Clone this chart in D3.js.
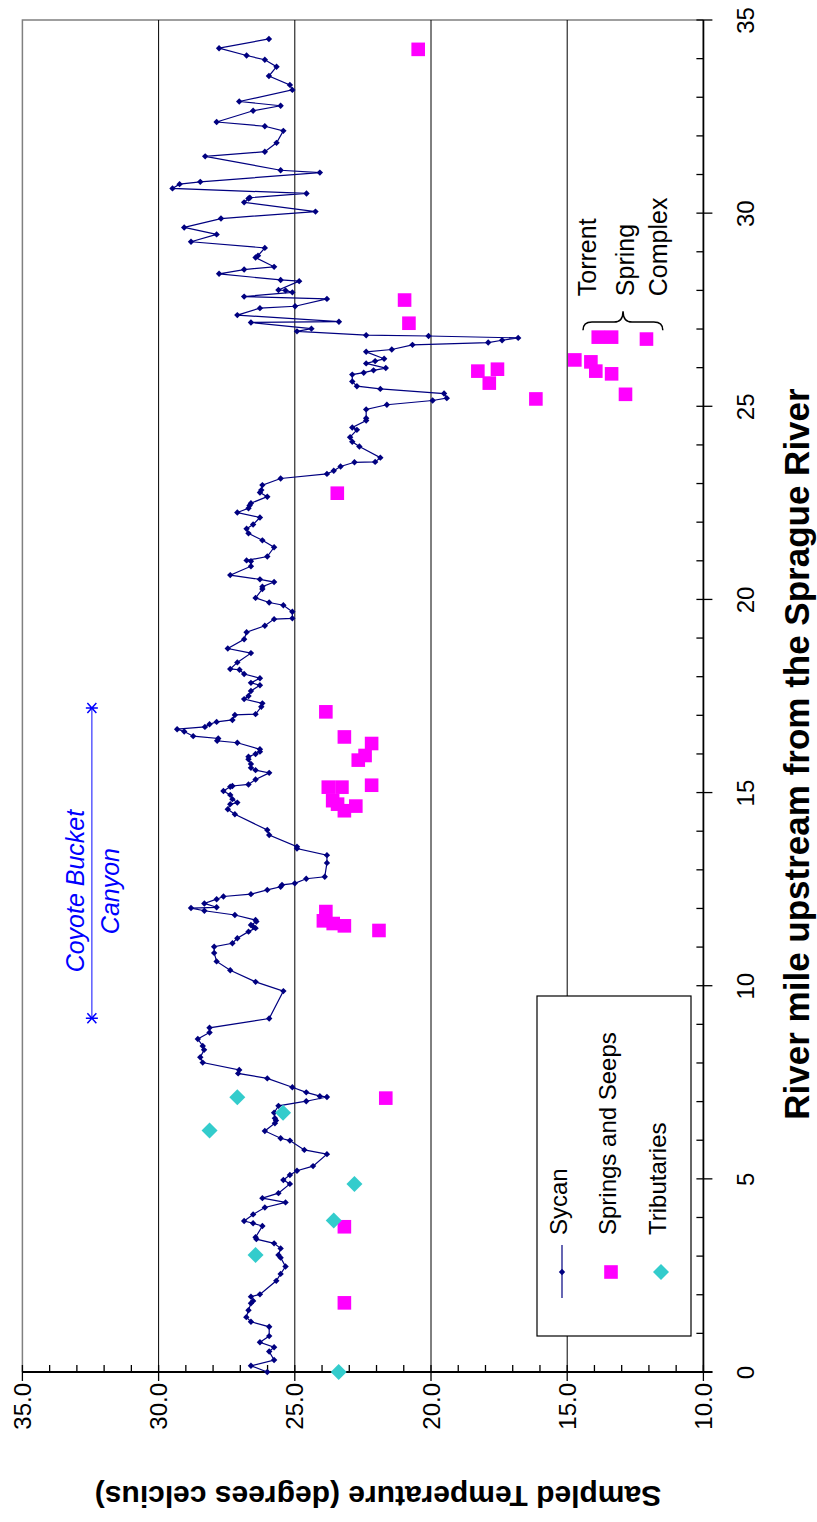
<!DOCTYPE html>
<html><head><meta charset="utf-8">
<script src="https://cdn.jsdelivr.net/npm/d3@7"></script>
<style>
body{margin:0;background:#fff}
svg{display:block}
text{font-family:"Liberation Sans",Arial,sans-serif}
</style>
</head><body>
<svg id="c" width="817" height="1522"></svg>
<script>
// ---------- data ----------
const sycanMile=[34.51,34.27,34.08,33.97,33.79,33.55,33.32,33.19,32.89,32.78,32.65,32.36,32.25,32.13,31.82,31.59,31.47,31.11,31.05,30.81,30.75,30.64,30.51,30.40,30.38,30.28,30.04,29.86,29.63,29.45,29.26,29.10,
28.90,28.85,28.61,28.54,28.43,28.27,28.24,28.01,28.00,27.95,27.84,27.78,27.59,27.54,27.36,27.19,27.17,27.01,26.94,26.84,26.82,26.77,26.71,26.65,26.59,26.47,26.41,26.23,26.17,26.11,25.99,25.93,25.87,25.82,25.64,25.52,25.45,25.33,25.21,25.15,25.04,24.92,24.69,24.63,24.45,24.39,24.20,24.08,23.96,23.67,23.56,23.55,23.44,23.33,
23.25,23.13,22.96,22.83,22.77,22.66,22.49,22.43,22.36,22.25,22.12,21.94,21.83,21.71,21.53,21.35,21.11,21.01,20.99,20.86,20.63,20.52,20.45,20.33,20.27,20.04,19.92,19.85,19.68,19.51,19.49,19.32,19.15,18.97,18.73,18.61,18.37,18.20,18.18,18.07,17.96,17.84,17.78,17.63,
17.50,17.42,17.31,17.22,17.03,17.01,16.88,16.83,16.77,16.70,16.64,16.58,16.46,16.40,16.34,16.29,16.12,16.06,16.00,15.93,15.86,15.74,15.64,15.58,15.51,15.34,15.21,15.17,15.15,15.04,14.94,14.83,14.74,14.70,14.57,14.44,14.03,13.90,13.60,13.55,13.38,13.18,12.82,12.77,12.65,12.61,12.56,12.48,12.37,12.31,12.24,
12.13,12.03,12.01,11.94,11.83,11.70,11.66,11.57,11.53,11.49,11.40,11.23,11.10,11.01,10.85,10.63,10.40,10.10,9.86,9.15,8.91,8.79,8.62,8.44,8.34,8.15,8.01,7.82,7.73,7.60,7.37,7.24,7.14,7.12,7.01,6.89,6.71,6.57,6.51,6.44,
6.24,6.05,5.99,5.75,5.64,5.33,5.21,5.10,4.97,4.87,4.63,4.50,4.39,4.26,4.08,3.91,3.85,3.78,3.49,3.44,3.33,3.20,3.03,2.96,2.73,2.54,2.36,2.01,1.95,1.84,1.78,1.60,1.42,1.30,1.17,0.93,0.77,0.64,0.53,0.31,0.16,0.00];
const sycanTemp=[25.95,27.78,26.77,26.10,25.67,25.95,25.18,25.09,27.04,25.52,26.53,27.87,26.10,25.42,25.67,26.10,28.29,25.52,24.08,28.47,29.23,29.49,24.57,26.65,26.70,26.86,24.24,27.71,29.06,27.87,28.81,26.10,
26.35,26.44,25.76,26.86,27.78,25.52,24.84,25.60,25.34,25.09,26.86,23.82,24.99,26.28,27.11,23.38,26.61,24.39,24.92,22.38,20.09,16.80,17.39,17.90,20.68,21.44,22.38,21.72,22.05,22.38,21.66,22.11,22.47,22.89,22.89,22.72,21.86,19.52,19.42,19.94,21.62,22.38,22.38,22.38,22.89,22.72,22.97,22.89,22.63,21.86,22.05,22.81,23.32,23.57,
23.82,25.52,26.19,26.23,26.28,26.01,26.61,26.66,26.70,27.11,26.28,26.53,26.77,26.70,26.19,25.76,26.01,26.77,26.61,26.61,27.37,26.28,25.76,26.19,26.19,26.44,25.94,25.42,25.09,25.09,25.76,26.10,26.77,26.86,27.46,26.61,27.11,27.37,27.03,26.86,26.28,26.61,26.28,26.61,
26.70,26.86,26.19,26.23,26.44,27.20,27.29,27.87,28.13,28.30,29.32,29.06,28.73,27.81,27.85,27.11,26.28,26.28,26.44,26.70,26.70,26.61,26.61,26.44,25.94,26.44,26.70,27.29,27.37,27.62,27.37,27.29,27.11,27.37,27.46,27.20,26.01,25.94,24.92,24.92,23.82,23.82,23.90,24.58,25.00,25.47,25.52,26.01,26.61,27.62,27.87,
28.32,27.87,28.81,28.32,27.20,26.44,26.41,26.61,26.53,26.44,26.70,27.11,27.29,27.96,27.96,27.87,27.37,26.44,25.42,25.94,28.13,28.13,28.56,28.38,28.33,28.47,28.38,27.04,27.08,26.01,25.09,24.58,24.08,23.82,24.58,25.60,25.76,25.73,25.69,25.73,
26.10,25.52,25.18,24.65,23.82,24.33,24.92,25.18,25.42,25.18,25.60,26.19,25.34,26.10,26.53,26.86,26.53,26.19,26.44,26.41,25.76,25.52,25.60,25.52,25.34,25.52,25.68,26.28,26.61,26.53,26.61,26.70,26.78,26.61,25.94,25.94,26.28,25.76,25.94,25.76,26.61,26.01];

const springMile=[34.24,27.75,27.15,26.79,26.79,26.74,26.20,26.15,25.91,25.84,25.31,25.91,25.96,25.60,25.19,22.75,17.09,16.44,16.27,15.96,15.84,15.19,15.14,15.14,14.79,14.70,14.65,14.53,11.92,11.68,11.61,11.55,11.43,7.09,3.76,1.79];
const springTemp=[20.47,20.97,20.81,13.86,13.37,12.09,14.72,14.13,13.95,13.37,12.86,18.28,17.56,17.86,16.15,23.44,23.86,23.18,22.18,22.42,22.67,22.18,23.77,23.27,23.61,23.43,22.76,23.18,23.86,23.95,23.59,23.18,21.91,21.66,23.18,23.18];

const tribMile=[7.11,6.71,6.25,4.87,3.92,3.03,0.00];
const tribTemp=[27.11,25.43,28.13,22.81,23.57,26.44,23.39];

const tempTicks=[10,15,20,25,30,35];
const mileTicks=[0,5,10,15,20,25,30,35];
const seriesNames=["Sycan","Springs and Seeps","Tributaries"];
const xTitle="River mile upstream from the Sprague River";
const yTitle="Sampled Temperature (degrees celcius)";
const canyonLabel=["Coyote Bucket","Canyon"];
const canyonMiles=[9.16,17.19];
const torrentLabel=["Torrent","Spring","Complex"];

// ---------- scales (chart is rotated: temperature horizontal, river mile vertical) ----------
const svg=d3.select("#c");
const x=d3.scaleLinear().domain([10,35]).range([703.4,22.4]);
const y=d3.scaleLinear().domain([0,35]).range([1372,20]);

// plot border (top/left gray)
svg.append("path").attr("d",`M${x(10)},${y(35)}L${x(35)},${y(35)}L${x(35)},${y(0)}`)
  .attr("fill","none").attr("stroke","#808080").attr("stroke-width",1.5);

// gridlines
svg.append("g").selectAll("line").data([15,20,25,30]).join("line")
  .attr("x1",d=>x(d)).attr("x2",d=>x(d)).attr("y1",y(0)).attr("y2",y(35))
  .attr("stroke","#000").attr("stroke-width",1);

// temperature axis (bottom)
const gx=svg.append("g").attr("transform",`translate(0,${y(0)})`)
  .call(d3.axisBottom(x).tickValues(tempTicks).tickSize(0).tickFormat(d3.format(".1f")));
gx.select(".domain").remove();
gx.selectAll("text").attr("transform","rotate(-90)").attr("text-anchor","end")
  .attr("x",-11).attr("y",8).attr("dy",0).attr("font-size",24).attr("fill","#000");
svg.append("line").attr("x1",x(35)).attr("x2",x(10)+9).attr("y1",y(0)).attr("y2",y(0))
  .attr("stroke","#000").attr("stroke-width",1.8);
svg.append("g").selectAll("line").data(d3.range(10,36)).join("line")
  .attr("x1",d=>x(d)).attr("x2",d=>x(d))
  .attr("y1",d=>y(0)-7).attr("y2",d=>d%5===0?y(0)+9:y(0))
  .attr("stroke","#000").attr("stroke-width",1.3);

// river mile axis (right)
const gy=svg.append("g").attr("transform",`translate(${x(10)},0)`)
  .call(d3.axisRight(y).tickValues(mileTicks).tickSize(0));
gy.select(".domain").remove();
gy.selectAll("text").attr("transform","rotate(-90)").attr("text-anchor","middle")
  .attr("x",0).attr("y",51).attr("dy",0).attr("font-size",24).attr("fill","#000");
svg.append("line").attr("x1",x(10)).attr("x2",x(10)).attr("y1",y(35)).attr("y2",y(0))
  .attr("stroke","#000").attr("stroke-width",1.8);
svg.append("g").selectAll("line").data(d3.range(0,36)).join("line")
  .attr("y1",d=>y(d)).attr("y2",d=>y(d))
  .attr("x1",d=>x(10)-7).attr("x2",d=>d%5===0?x(10)+9:x(10))
  .attr("stroke","#000").attr("stroke-width",1.3);

// axis titles
svg.append("text").attr("transform","translate(378,1486) rotate(180)")
  .attr("text-anchor","middle").attr("font-weight","bold").attr("font-size",30).text(yTitle);
svg.append("text").attr("transform","translate(809,754) rotate(-90)")
  .attr("text-anchor","middle").attr("font-weight","bold").attr("font-size",35).text(xTitle);

// Sycan line
const sycan=sycanMile.map((m,i)=>({m,t:sycanTemp[i]}));
svg.append("path").datum(sycan)
  .attr("d",d3.line().x(d=>x(d.t)).y(d=>y(d.m)))
  .attr("fill","none").attr("stroke","#000080").attr("stroke-width",1.2);
svg.append("g").selectAll("path").data(sycan).join("path")
  .attr("transform",d=>`translate(${x(d.t)},${y(d.m)})`)
  .attr("d","M0,-3.2L3.2,0L0,3.2L-3.2,0Z").attr("fill","#000080");

// springs
const springs=springMile.map((m,i)=>({m,t:springTemp[i]}));
svg.append("g").selectAll("rect").data(springs).join("rect")
  .attr("x",d=>x(d.t)-6.8).attr("y",d=>y(d.m)-6.8).attr("width",13.6).attr("height",13.6)
  .attr("fill","#ff00ff");

// tributaries
const tribs=tribMile.map((m,i)=>({m,t:tribTemp[i]}));
svg.append("g").selectAll("path").data(tribs).join("path")
  .attr("transform",d=>`translate(${x(d.t)},${y(d.m)})`)
  .attr("d","M0,-8L8,0L0,8L-8,0Z").attr("fill","#33cccc");

// Coyote Bucket Canyon annotation
const cx=x(32.45);
svg.append("line").attr("x1",cx).attr("x2",cx).attr("y1",y(canyonMiles[0])).attr("y2",y(canyonMiles[1]))
  .attr("stroke","#3333ff").attr("stroke-width",1.2);
canyonMiles.forEach(m=>{
  const g=svg.append("g").attr("transform",`translate(${cx},${y(m)})`);
  g.append("path").attr("d","M-6,0L6,0M-4.5,-5L4.5,5M-4.5,5L4.5,-5")
    .attr("stroke","#0000ff").attr("stroke-width",1.5);
});
svg.append("text").attr("transform",`translate(${x(32.74)},${y(12.45)}) rotate(-90)`)
  .attr("text-anchor","middle").attr("font-size",25).attr("font-style","italic").attr("fill","#0000ff").text(canyonLabel[0]);
svg.append("text").attr("transform",`translate(${x(31.45)},${y(12.45)}) rotate(-90)`)
  .attr("text-anchor","middle").attr("font-size",25).attr("font-style","italic").attr("fill","#0000ff").text(canyonLabel[1]);

// Torrent Spring Complex annotation
[[13.94,torrentLabel[0]],[12.55,torrentLabel[1]],[11.34,torrentLabel[2]]].forEach(([t,s])=>{
  svg.append("text").attr("transform",`translate(${x(t)},${y(27.85)}) rotate(-90)`)
    .attr("text-anchor","start").attr("font-size",25).attr("fill","#000").text(s);
});
{
  const xl=x(14.42), xr=x(11.49), xt=x(12.95), ys=y(27.18), yt=y(27.46), ye=y(26.97);
  const p=d3.path();
  p.moveTo(xl,ye); p.quadraticCurveTo(xl,ys,xl+9,ys); p.lineTo(xt-9,ys);
  p.quadraticCurveTo(xt,ys,xt,yt); p.quadraticCurveTo(xt,ys,xt+9,ys);
  p.lineTo(xr-9,ys); p.quadraticCurveTo(xr,ys,xr,ye);
  svg.append("path").attr("d",p.toString()).attr("fill","none").attr("stroke","#000").attr("stroke-width",1.5);
}

// legend
const lg=svg.append("g");
lg.append("rect").attr("x",537).attr("y",996).attr("width",154).attr("height",340)
  .attr("fill","#fff").attr("stroke","#000").attr("stroke-width",1.2);
const rowX=[562,611,661], symY=1272;
lg.append("line").attr("x1",rowX[0]).attr("x2",rowX[0]).attr("y1",symY-27).attr("y2",symY+26)
  .attr("stroke","#000080").attr("stroke-width",1.2);
lg.append("path").attr("transform",`translate(${rowX[0]},${symY})`).attr("d","M0,-3.2L3.2,0L0,3.2L-3.2,0Z").attr("fill","#000080");
lg.append("rect").attr("x",rowX[1]-6.8).attr("y",symY-6.8).attr("width",13.6).attr("height",13.6).attr("fill","#ff00ff");
lg.append("path").attr("transform",`translate(${rowX[2]},${symY})`).attr("d","M0,-8L8,0L0,8L-8,0Z").attr("fill","#33cccc");
seriesNames.forEach((s,i)=>{
  lg.append("text").attr("transform",`translate(${rowX[i]+5},1235) rotate(-90)`)
    .attr("font-size",24).attr("fill","#000").text(s);
});
</script>
</body></html>
